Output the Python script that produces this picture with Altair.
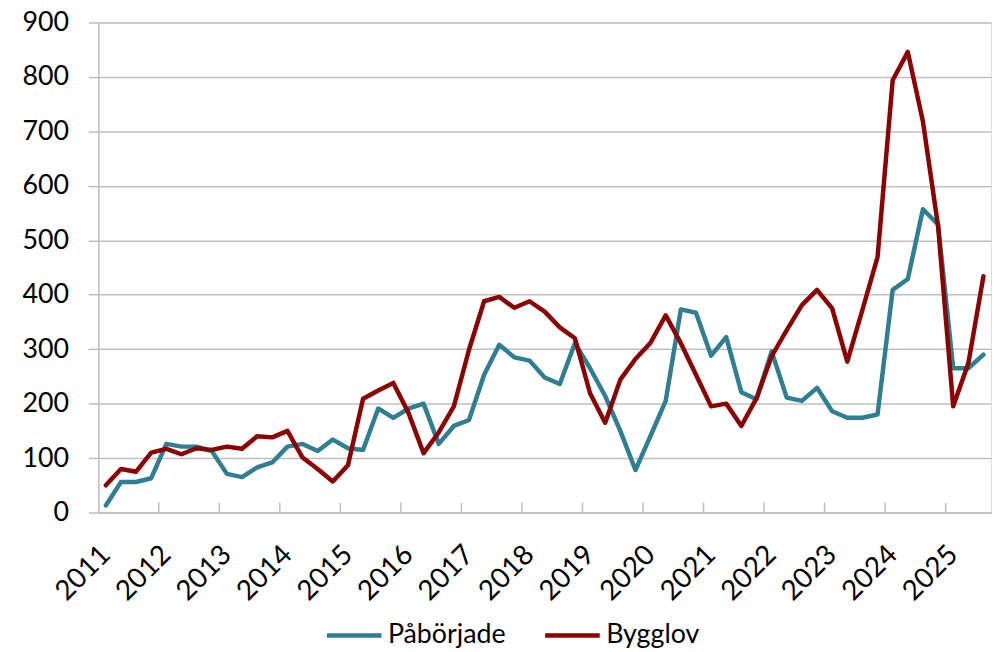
import altair as alt
import pandas as pd

years = [str(y) for y in range(2011, 2026)]
quarters = [f"{y}K{q}" for y in range(2011, 2026) for q in range(1, 5)][:59]

paborjade = [13, 56, 56, 63, 126, 121, 121, 113, 71, 65, 83, 92, 121, 126, 113, 134,
             118, 115, 191, 174, 191, 200, 126, 159, 170, 253, 308, 285, 279, 248,
             236, 311, 265, 214, 150, 78, 141, 205, 373, 367, 288, 322, 221, 208,
             296, 211, 205, 229, 186, 174, 174, 180, 409, 429, 557, 529, 265, 265, 290]
bygglov = [50, 80, 75, 110, 117, 107, 118, 115, 121, 117, 140, 138, 150, 101, 80, 57,
           87, 209, 224, 238, 183, 109, 147, 195, 299, 388, 396, 376, 388, 369,
           340, 320, 219, 165, 244, 282, 312, 362, 311, 253, 195, 200, 159, 210,
           287, 335, 381, 409, 375, 277, 372, 469, 794, 846, 718, 526, 195, 274, 434]

series_names = ["Påbörjade", "Bygglov"]
colors = ["#2F7E91", "#8B0000"]

rows = []
for i, q in enumerate(quarters):
    rows.append({"i": i, "period": q, "serie": series_names[0], "value": paborjade[i]})
    rows.append({"i": i, "period": q, "serie": series_names[1], "value": bygglov[i]})
df = pd.DataFrame(rows)

# year boundaries (between Q4 and Q1) for inward tick marks
ticks_df = pd.DataFrame({"b": [4 * k - 0.5 for k in range(1, len(years))]})

FONT = "Lato"
GRID = "#BFBFBF"
W, H = 900, 494
N = len(quarters)

label_expr = "[" + ",".join(f"'{y}'" for y in years) + "][datum.value / 4]"

xscale = alt.Scale(domain=[-0.5, N - 0.5], nice=False, zero=False)
yscale = alt.Scale(domain=[0, 900], nice=False)

color = alt.Color(
    "serie:N",
    scale=alt.Scale(domain=series_names, range=colors),
    legend=alt.Legend(
        title=None, orient="none", direction="horizontal",
        legendX=228, legendY=588,
        symbolType="stroke", symbolSize=3025, symbolStrokeWidth=4.5,
        labelFont=FONT, labelFontSize=27, labelColor="#000000",
        labelOffset=4, columnPadding=30, labelLimit=300,
    ),
)

x_enc = alt.X(
    "i:Q", scale=xscale,
    axis=alt.Axis(
        values=list(range(0, N, 4)), labelExpr=label_expr, title=None,
        grid=False, ticks=False, tickSize=0, domain=True, domainColor=GRID,
        domainWidth=1.5, labelAngle=-45, labelAlign="right", labelBaseline="middle",
        labelPadding=38, labelFont=FONT, labelFontSize=28, labelColor="#000000",
        labelOverlap=False, labelFlush=False,
    ),
)
y_enc = alt.Y(
    "value:Q", scale=yscale,
    axis=alt.Axis(
        values=list(range(0, 1000, 100)), title=None, grid=True, gridColor=GRID,
        gridWidth=1.5, domain=True, domainColor=GRID, domainWidth=1.5,
        ticks=True, tickColor=GRID, tickSize=10, tickWidth=1.5,
        labelPadding=20, labelFont=FONT, labelFontSize=27, labelColor="#000000",
    ),
)

tick_marks = alt.Chart(ticks_df).mark_rule(color=GRID, strokeWidth=1.5).encode(
    x=alt.X("b:Q", scale=xscale),
    y=alt.value(H),
    y2=alt.value(H - 10),
)

line1 = alt.Chart(df).transform_filter(
    alt.datum.serie == series_names[0]
).mark_line(strokeWidth=4.5, strokeJoin="round", strokeCap="round").encode(
    x=x_enc, y=y_enc, color=color
)
line2 = alt.Chart(df).transform_filter(
    alt.datum.serie == series_names[1]
).mark_line(strokeWidth=4.5, strokeJoin="round", strokeCap="round").encode(
    x=x_enc, y=y_enc, color=color
)

chart = alt.layer(tick_marks, line1, line2).properties(
    width=W, height=H,
    autosize=alt.AutoSizeParams(type="none"),
    padding={"left": 91, "top": 12, "right": 4, "bottom": 138},
).configure_view(stroke=None).configure(background="white")

chart.save("out.html", embed_options={"renderer": "svg", "actions": False})
